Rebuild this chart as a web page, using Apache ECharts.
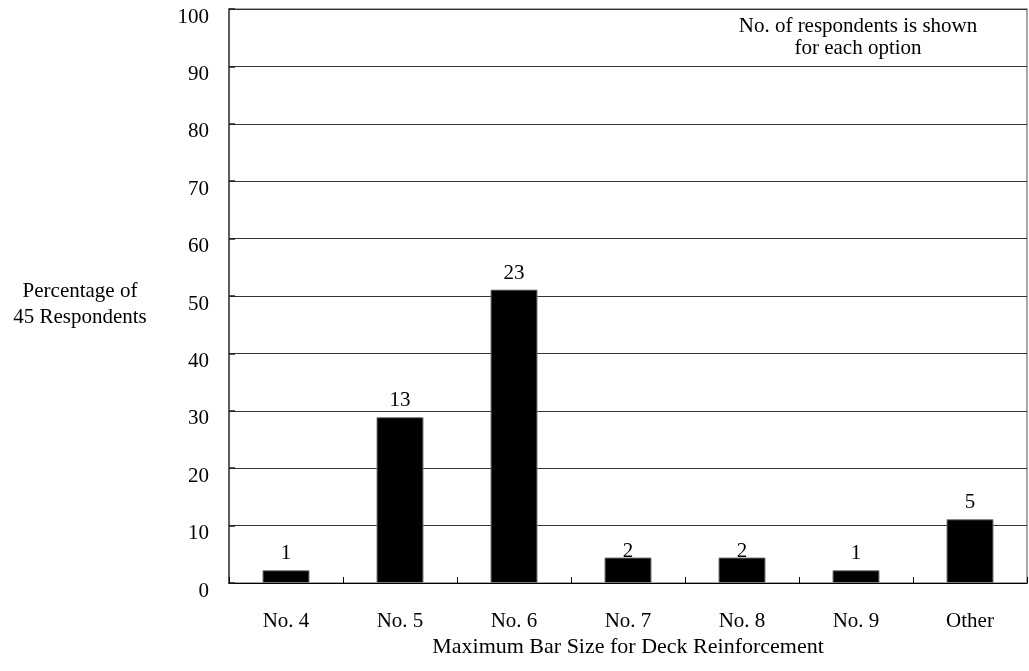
<!DOCTYPE html>
<html>
<head>
<meta charset="utf-8">
<title>Maximum Bar Size for Deck Reinforcement</title>
<script src="https://cdn.jsdelivr.net/npm/echarts@6/dist/echarts.min.js"></script>
<style>
  html, body { margin: 0; padding: 0; background: #fff; }
  #chart { width: 1029px; height: 671px; }
</style>
</head>
<body>
<div id="chart"></div>
<script>
// Survey: maximum bar size used for deck reinforcement (45 respondents)
const categories = ['No. 4', 'No. 5', 'No. 6', 'No. 7', 'No. 8', 'No. 9', 'Other'];
const respondents = [1, 13, 23, 2, 2, 1, 5];
const totalRespondents = 45;
const yTicks = [0, 10, 20, 30, 40, 50, 60, 70, 80, 90, 100];

// Bar height is the share of respondents, label is the head count
const percentages = respondents.map(n => n / totalRespondents * 100);

const FONT = "'Liberation Serif', 'Times New Roman', serif";
// labels for No. 7 and No. 8 sit lower, tucked against the bar top
const labelNudge = { 'No. 7': 10, 'No. 8': 10 };

const chart = echarts.init(document.getElementById('chart'), null, { renderer: 'canvas' });

chart.setOption({
  animation: false,
  backgroundColor: '#ffffff',
  textStyle: { fontFamily: FONT, color: '#000' },
  grid: {
    left: 229, right: 2, top: 9, bottom: 88,
    show: true, borderColor: '#8a8a8a', borderWidth: 1.5, backgroundColor: 'transparent'
  },
  xAxis: {
    type: 'category',
    data: categories,
    boundaryGap: true,
    axisLine: { show: true, lineStyle: { color: '#000', width: 1 } },
    axisTick: { show: true, inside: true, length: 6, lineStyle: { color: '#000', width: 1 } },
    axisLabel: { fontFamily: FONT, fontSize: 21, color: '#000', margin: 28 },
    splitLine: { show: false }
  },
  yAxis: {
    type: 'value',
    min: yTicks[0],
    max: yTicks[yTicks.length - 1],
    interval: yTicks[1] - yTicks[0],
    axisLine: { show: true, lineStyle: { color: '#444', width: 1.5 } },
    axisTick: { show: true, inside: true, length: 6, lineStyle: { color: '#222', width: 1.5 } },
    axisLabel: {
      fontFamily: FONT, fontSize: 21, color: '#000', margin: 20,
      verticalAlign: 'top', lineHeight: 16
    },
    splitLine: { show: true, lineStyle: { color: '#333', width: 1 } }
  },
  series: [{
    type: 'bar',
    barWidth: 47,
    data: percentages.map((v, i) => ({
      value: v,
      label: { offset: [0, labelNudge[categories[i]] || 0] }
    })),
    itemStyle: { color: '#000', borderColor: '#7a7a7a', borderWidth: 1 },
    label: {
      show: true,
      position: 'top',
      distance: 6,
      fontFamily: FONT,
      fontSize: 21,
      color: '#000',
      formatter: p => String(respondents[p.dataIndex])
    },
    z: 3
  }],
  graphic: [
    {
      type: 'text',
      x: 80, y: 304,
      style: {
        text: 'Percentage of\n45 Respondents',
        font: '21px ' + FONT,
        fill: '#000',
        align: 'center',
        verticalAlign: 'middle',
        lineHeight: 26
      }
    },
    {
      type: 'text',
      x: 858, y: 37,
      style: {
        text: 'No. of respondents is shown\nfor each option',
        font: '21px ' + FONT,
        fill: '#000',
        align: 'center',
        verticalAlign: 'middle',
        lineHeight: 22
      }
    },
    {
      type: 'text',
      x: 628, y: 647,
      style: {
        text: 'Maximum Bar Size for Deck Reinforcement',
        font: '22px ' + FONT,
        fill: '#000',
        align: 'center',
        verticalAlign: 'middle'
      }
    }
  ]
});
</script>
</body>
</html>
